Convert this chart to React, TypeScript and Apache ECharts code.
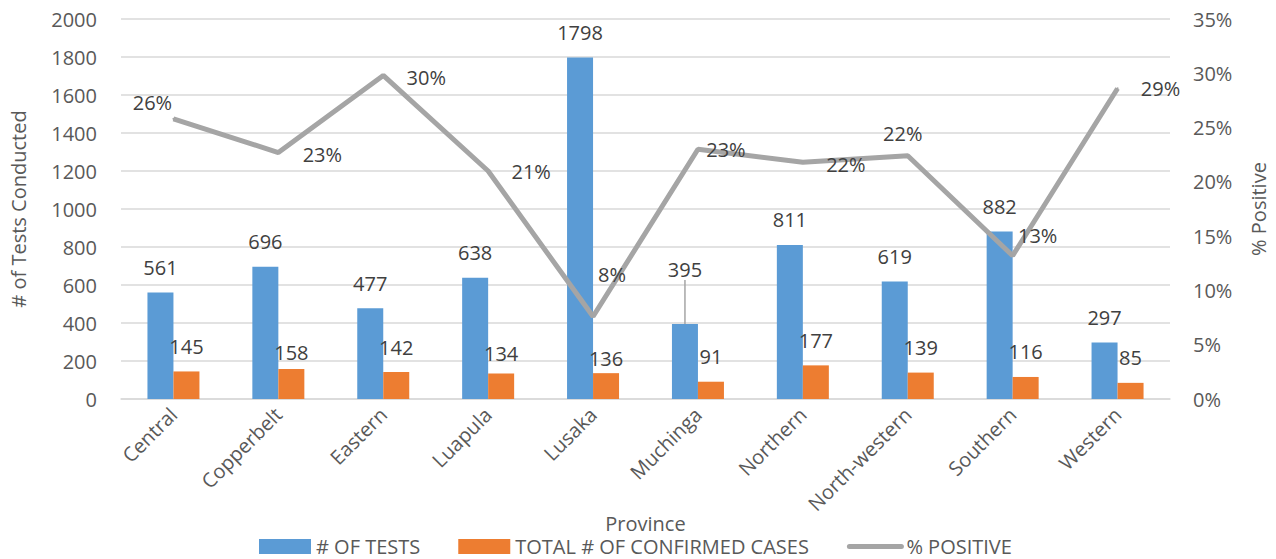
import React, { useEffect, useRef } from "react";
import * as echarts from "echarts";

const provinces = ["Central", "Copperbelt", "Eastern", "Luapula", "Lusaka", "Muchinga", "Northern", "North-western", "Southern", "Western"];
const testsConducted = [561, 696, 477, 638, 1798, 395, 811, 619, 882, 297];
const confirmedCases = [145, 158, 142, 134, 136, 91, 177, 139, 116, 85];
const percentPositive = [0.258, 0.227, 0.298, 0.21, 0.076, 0.23, 0.218, 0.224, 0.132, 0.286];

// label placement tweaks (pixels), mirroring the manually moved labels of the original
const pctLabelOffsets = [[-21, -16], [44, 2], [43, 2], [43, 0], [19, -42], [28, 0], [43, 2], [-5, -22], [25, -20], [43, 0]];
const casesLabelShift = [0, 9, 0, 5, 10, 0, 0, 0, 0, 0];
const testsLabelShift = [0, 0, 0, 0, 0, -29, 0, 0, 0, 0];

const FONT = "'Open Sans', 'Noto Sans', sans-serif";

export default function App() {
  const ref = useRef<HTMLDivElement>(null);
  useEffect(() => {
    if (!ref.current) return;
    const chart = echarts.init(ref.current, undefined, { renderer: "svg" });
    chart.setOption({
      animation: false,
      backgroundColor: "#ffffff",
      textStyle: { fontFamily: FONT },
      grid: { left: 117, right: 106, top: 19, bottom: 160, containLabel: false },
      legend: {
        left: 259,
        top: 536,
        padding: 0,
        itemWidth: 52,
        itemHeight: 15,
        itemGap: 38,
        textStyle: { fontFamily: FONT, fontSize: 20, lineHeight: 21, color: "#595959" },
        data: [
          { name: "# OF TESTS", icon: "rect" },
          { name: "TOTAL # OF CONFIRMED CASES", icon: "rect" },
          { name: "% POSITIVE", itemStyle: { opacity: 0 }, lineStyle: { width: 5, cap: "round", color: "#A5A5A5" } },
        ],
      },
      xAxis: {
        type: "category",
        data: provinces,
        name: "Province",
        nameLocation: "middle",
        nameGap: 113,
        nameMoveOverlap: false,
        nameTextStyle: { fontFamily: FONT, fontSize: 20, lineHeight: 22, color: "#595959" },
        axisTick: { show: false },
        axisLine: { lineStyle: { color: "#D9D9D9", width: 1.5 } },
        axisLabel: { rotate: 45, fontFamily: FONT, fontSize: 20, color: "#595959", margin: 12, interval: 0 },
      },
      yAxis: [
        {
          type: "value",
          min: 0,
          max: 2000,
          interval: 200,
          name: "# of Tests Conducted",
          nameLocation: "middle",
          nameGap: 93,
          nameTextStyle: { fontFamily: FONT, fontSize: 20, color: "#595959" },
          axisLabel: { fontFamily: FONT, fontSize: 20, color: "#595959", margin: 24, formatter: (v: number) => String(v) },
          splitLine: { lineStyle: { color: "#D9D9D9", width: 1.5 } },
          axisLine: { show: false },
          axisTick: { show: false },
        },
        {
          type: "value",
          min: 0,
          max: 0.35,
          interval: 0.05,
          name: "% Positive",
          nameLocation: "middle",
          nameGap: 78,
          nameTextStyle: { fontFamily: FONT, fontSize: 20, color: "#595959" },
          axisLabel: {
            fontFamily: FONT,
            fontSize: 20,
            color: "#595959",
            margin: 23,
            formatter: (v: number) => Math.round(v * 100) + "%",
          },
          splitLine: { show: false },
          axisLine: { show: false },
          axisTick: { show: false },
        },
      ],
      series: [
        {
          name: "# OF TESTS",
          type: "bar",
          data: testsConducted.map((v, i) => ({
            value: v,
            labelLine: { show: testsLabelShift[i] !== 0 },
          })),
          barWidth: 26,
          barGap: "0%",
          itemStyle: { color: "#5B9BD5" },
          label: { show: true, position: "top", distance: 15, fontFamily: FONT, fontSize: 20, color: "#404040" },
          labelLayout: (p: any) => ({ dy: testsLabelShift[p.dataIndex] }),
          labelLine: { show: false, lineStyle: { color: "#A5A5A5", width: 1.5 } },
        },
        {
          name: "TOTAL # OF CONFIRMED CASES",
          type: "bar",
          data: confirmedCases,
          barWidth: 26,
          barGap: "0%",
          itemStyle: { color: "#ED7D31" },
          label: { show: true, position: "top", distance: 15, fontFamily: FONT, fontSize: 20, color: "#404040" },
          labelLayout: (p: any) => ({ dy: casesLabelShift[p.dataIndex] }),
        },
        {
          name: "% POSITIVE",
          type: "line",
          yAxisIndex: 1,
          data: percentPositive.map((v, i) => ({
            value: v,
            label: { offset: pctLabelOffsets[i] },
          })),
          symbol: "circle",
          symbolSize: 2,
          showSymbol: true,
          itemStyle: { color: "#A5A5A5" },
          lineStyle: { color: "#A5A5A5", width: 5 },
          label: {
            show: true,
            position: "inside",
            fontFamily: FONT,
            fontSize: 20,
            color: "#404040",
            formatter: (p: any) => Math.round(p.value * 100) + "%",
          },
          z: 3,
        },
      ],
    });
    return () => chart.dispose();
  }, []);
  return <div ref={ref} style={{ position: "fixed", left: 0, top: 0, width: 1276, height: 559 }} />;
}
